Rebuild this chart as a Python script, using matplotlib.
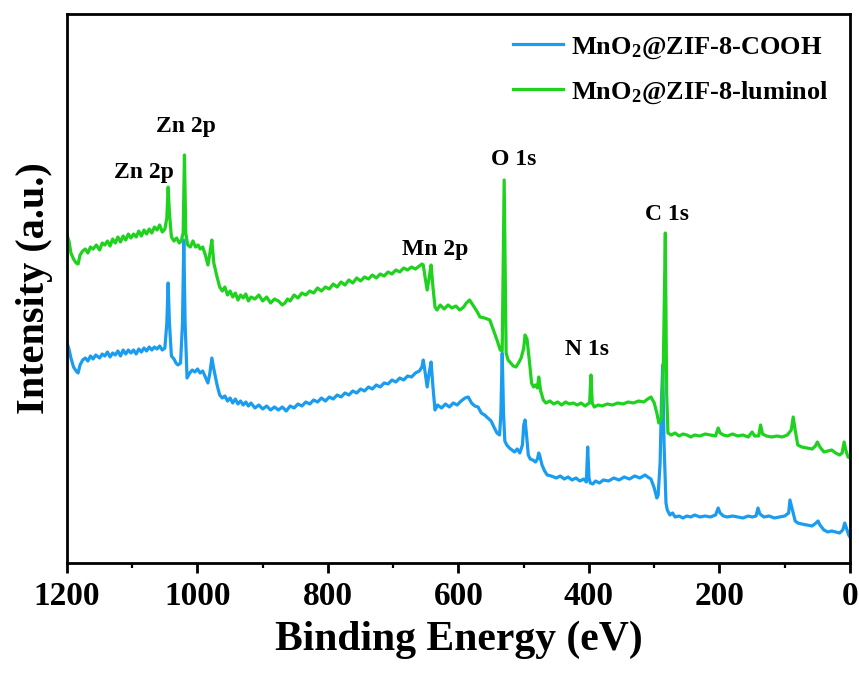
import matplotlib
matplotlib.use('Agg')
import matplotlib.pyplot as plt
from matplotlib.ticker import MultipleLocator

plt.rcParams['font.family'] = ['Liberation Serif', 'DejaVu Serif']
plt.rcParams['font.weight'] = 'bold'
plt.rcParams['mathtext.fontset'] = 'custom'
plt.rcParams['mathtext.rm'] = 'Liberation Serif:bold'
plt.rcParams['mathtext.bf'] = 'Liberation Serif:bold'
plt.rcParams['mathtext.default'] = 'bf'

# MnO2@ZIF-8-COOH: (binding energy eV, intensity a.u.)
cooh_points = [
    (1200, 220), (1197, 214), (1194, 205), (1190, 196), (1186, 192), (1183, 190), (1180, 198),
    (1176, 203), (1172, 205), (1168, 202), (1164, 207), (1160, 204), (1156, 208), (1150, 205),
    (1146, 209), (1142, 207), (1138, 211), (1134, 206), (1130, 210), (1126, 208), (1122, 212),
    (1118, 207), (1114, 213), (1110, 209), (1106, 213), (1102, 210), (1098, 213), (1094, 209),
    (1090, 214), (1086, 211), (1082, 215), (1078, 212), (1074, 216), (1070, 213), (1066, 216),
    (1062, 214), (1058, 217), (1054, 213), (1050, 215), (1047, 240), (1045, 280), (1043, 240),
    (1040, 207), (1036, 204), (1033, 200), (1030, 198), (1026, 200), (1023, 240), (1021, 323),
    (1019, 240), (1016, 185), (1012, 190), (1008, 193), (1004, 191), (1000, 194), (996, 190),
    (992, 192), (988, 186), (984, 180), (981, 190), (978, 205), (975, 194), (970, 178),
    (966, 168), (962, 165), (958, 167), (954, 162), (950, 165), (946, 160), (942, 164),
    (938, 159), (934, 162), (930, 158), (926, 161), (922, 157), (918, 160), (912, 155),
    (906, 158), (900, 154), (894, 157), (888, 153), (882, 156), (876, 153), (870, 156),
    (864, 152), (858, 157), (852, 155), (846, 159), (840, 157), (834, 161), (828, 159),
    (822, 163), (816, 161), (810, 165), (804, 162), (798, 166), (792, 164), (786, 168),
    (780, 166), (774, 170), (768, 168), (762, 172), (756, 170), (750, 174), (744, 172),
    (738, 176), (732, 174), (726, 178), (720, 176), (714, 180), (708, 179), (702, 183),
    (696, 181), (690, 185), (684, 183), (678, 187), (672, 186), (666, 190), (660, 192),
    (656, 196), (654, 203), (651, 190), (648, 176), (645, 190), (642, 201), (639, 175),
    (636, 153), (632, 158), (626, 155), (620, 159), (614, 156), (608, 160), (602, 158),
    (596, 162), (590, 165), (585, 166), (580, 160), (575, 157), (570, 156), (565, 150),
    (560, 148), (555, 145), (550, 142), (545, 135), (541, 130), (537, 128), (535, 150),
    (533, 210), (531, 150), (529, 122), (526, 118), (522, 115), (518, 113), (514, 111),
    (510, 114), (506, 110), (502, 118), (500, 138), (498, 143), (496, 130), (493, 108),
    (490, 104), (486, 103), (482, 101), (479, 104), (477, 110), (475, 106), (472, 98),
    (468, 92), (464, 88), (458, 87), (450, 85), (444, 87), (438, 84), (432, 86), (426, 83),
    (420, 85), (414, 82), (408, 84), (404, 81), (402, 116), (400, 85), (398, 80), (394, 79),
    (390, 82), (384, 80), (378, 83), (370, 82), (362, 85), (354, 83), (346, 86), (338, 84),
    (330, 87), (322, 85), (314, 88), (310, 86), (305, 84), (300, 75), (296, 65), (294, 68),
    (291, 100), (289, 160), (287, 198), (285, 120), (282, 60), (280, 53), (276, 48),
    (272, 50), (268, 46), (262, 47), (256, 45), (250, 47), (244, 46), (238, 48), (230, 46),
    (222, 47), (214, 46), (206, 48), (202, 55), (199, 50), (194, 47), (188, 46), (180, 47),
    (172, 46), (164, 45), (156, 47), (150, 46), (144, 47), (141, 55), (138, 49), (132, 46),
    (124, 47), (116, 45), (108, 46), (100, 47), (94, 50), (92, 63), (89, 55), (84, 42),
    (80, 40), (74, 39), (66, 38), (58, 37), (52, 40), (49, 42), (46, 38), (40, 33), (34, 31),
    (28, 32), (22, 31), (16, 30), (11, 33), (8, 40), (5, 34), (2, 28), (0, 26),
]

# MnO2@ZIF-8-luminol
lum_points = [
    (1200, 328), (1197, 322), (1194, 310), (1190, 304), (1186, 300), (1183, 299), (1180, 308),
    (1176, 312), (1172, 314), (1168, 310), (1164, 316), (1160, 314), (1155, 318), (1150, 313),
    (1146, 320), (1142, 318), (1138, 322), (1134, 317), (1130, 324), (1126, 320), (1122, 326),
    (1118, 321), (1114, 327), (1110, 323), (1106, 329), (1102, 325), (1098, 329), (1094, 326),
    (1090, 332), (1086, 327), (1082, 333), (1078, 329), (1074, 334), (1070, 330), (1066, 336),
    (1062, 333), (1058, 338), (1054, 331), (1050, 334), (1047, 345), (1045, 376), (1043, 350),
    (1040, 326), (1036, 322), (1032, 325), (1028, 320), (1025, 322), (1022, 330), (1020, 408),
    (1018, 330), (1015, 318), (1011, 316), (1007, 322), (1003, 316), (999, 318), (996, 314),
    (992, 316), (988, 308), (984, 298), (981, 310), (978, 323), (975, 300), (970, 286),
    (966, 276), (962, 272), (958, 276), (954, 268), (950, 272), (946, 266), (942, 270),
    (938, 263), (934, 268), (930, 265), (926, 269), (922, 262), (918, 266), (912, 264),
    (906, 268), (900, 262), (894, 266), (888, 260), (882, 264), (876, 262), (870, 258),
    (866, 260), (862, 264), (858, 262), (852, 268), (846, 265), (840, 270), (834, 268),
    (828, 272), (822, 270), (816, 275), (810, 272), (804, 276), (798, 274), (792, 279),
    (786, 276), (780, 281), (774, 278), (768, 283), (762, 280), (756, 285), (750, 282),
    (744, 286), (738, 284), (732, 288), (726, 285), (720, 289), (714, 287), (708, 291),
    (702, 289), (696, 293), (690, 291), (684, 295), (678, 293), (672, 296), (666, 294),
    (660, 297), (656, 299), (654, 298), (651, 285), (648, 273), (645, 285), (642, 298),
    (639, 275), (636, 256), (633, 253), (628, 258), (622, 254), (616, 258), (610, 255),
    (604, 257), (598, 253), (592, 256), (588, 260), (583, 263), (578, 258), (572, 252),
    (567, 246), (560, 245), (552, 243), (546, 232), (541, 223), (536, 213), (533, 212),
    (530, 383), (527, 210), (524, 203), (520, 200), (516, 197), (512, 196), (508, 200),
    (504, 205), (500, 215), (498, 228), (495, 224), (491, 200), (488, 180), (485, 176),
    (482, 178), (479, 175), (477, 186), (474, 172), (470, 163), (466, 160), (460, 162),
    (454, 159), (448, 161), (442, 158), (436, 161), (430, 159), (424, 160), (418, 158),
    (412, 160), (406, 157), (402, 159), (399, 160), (397, 188), (395, 160), (392, 156),
    (386, 158), (380, 157), (372, 159), (364, 158), (356, 160), (348, 159), (340, 161),
    (332, 160), (324, 162), (316, 161), (310, 164), (305, 166), (300, 160), (296, 150),
    (293, 140), (289, 145), (286, 200), (283, 330), (281, 170), (279, 130), (274, 128),
    (268, 130), (262, 127), (256, 129), (250, 128), (244, 126), (238, 128), (230, 127),
    (222, 129), (214, 128), (206, 127), (202, 135), (199, 130), (194, 128), (188, 127),
    (180, 129), (172, 127), (164, 128), (156, 126), (150, 131), (146, 127), (140, 127),
    (137, 138), (134, 129), (128, 127), (120, 126), (112, 127), (104, 126), (96, 128),
    (90, 133), (87, 146), (84, 133), (80, 118), (74, 116), (66, 115), (58, 114), (53, 117),
    (50, 121), (46, 116), (40, 111), (34, 112), (28, 113), (22, 110), (16, 108), (12, 110),
    (9, 121), (6, 112), (3, 106), (0, 105),
]

cooh_energy = [p[0] for p in cooh_points]
cooh_intensity = [p[1] for p in cooh_points]
lum_energy = [p[0] for p in lum_points]
lum_intensity = [p[1] for p in lum_points]

energy_ticks = [1200, 1000, 800, 600, 400, 200, 0]

peak_labels = ['Zn 2p', 'Zn 2p', 'Mn 2p', 'O 1s', 'N 1s', 'C 1s']
peak_label_x = [1082, 1018, 636, 516, 403, 280]
peak_label_y = [385, 431, 308, 398, 208, 343]

fig = plt.figure(figsize=(8.59, 6.77), dpi=100)
ax = fig.add_axes([0.078, 0.1684, 0.9115, 0.8109])

ax.plot(cooh_energy, cooh_intensity, color='#1a9cf0', lw=2.3,
        label=r'MnO$_\mathbf{2}$@ZIF-8-COOH')
ax.plot(lum_energy, lum_intensity, color='#1ed21e', lw=2.3,
        label=r'MnO$_\mathbf{2}$@ZIF-8-luminol')

for txt, x, y in zip(peak_labels, peak_label_x, peak_label_y):
    ax.text(x, y, txt, ha='center', va='baseline', fontsize=17, fontweight='bold')

ax.set_xlim(1200, 0)
ax.set_ylim(0, 549)
ax.set_xticks(energy_ticks)
ax.xaxis.set_minor_locator(MultipleLocator(100))
ax.set_yticks([])
ax.tick_params(axis='x', which='major', direction='out', length=7, width=2,
               labelsize=24, pad=6)
ax.tick_params(axis='x', which='minor', direction='out', length=3.5, width=1.6)
for lab in ax.get_xticklabels():
    lab.set_fontweight('bold')
for sp in ax.spines.values():
    sp.set_linewidth(2)

ax.set_xlabel('Binding Energy (eV)', fontsize=30, fontweight='bold', labelpad=6)
ax.set_ylabel('Intensity (a.u.)', fontsize=29, fontweight='bold', labelpad=10)

ax.legend(loc='upper right', frameon=False, handlelength=1.9,
          handletextpad=0.3, labelspacing=0.7, borderaxespad=0.4,
          prop={'weight': 'bold', 'size': 19})

fig.savefig('out.png', dpi=100)
